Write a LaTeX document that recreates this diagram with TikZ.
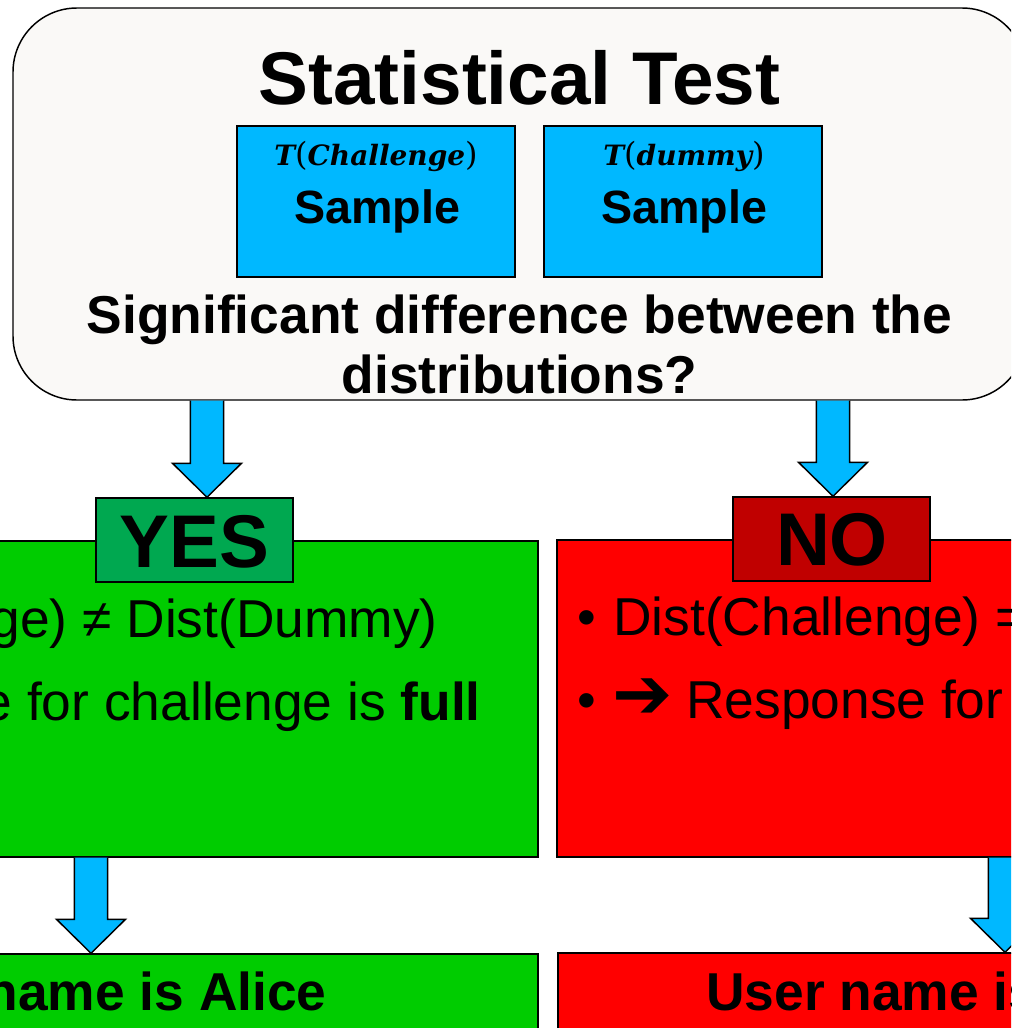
\documentclass[tikz,border=0pt]{standalone}
\usepackage{fontspec}
\setmainfont{Liberation Sans}
\newfontfamily\dingfont{DejaVu Sans}
\newfontfamily\varfont{DejaVu Serif}
\usetikzlibrary{calc,fit}

\definecolor{panelfill}{HTML}{FAF9F7}
\definecolor{skyblue}{HTML}{00B8FF}
\definecolor{yesgreen}{HTML}{00CC00}
\definecolor{yesdark}{HTML}{00A850}
\definecolor{nored}{HTML}{FF0000}
\definecolor{nodark}{HTML}{C00000}

% variable-style label: bold italic name in upright parentheses
\newcommand\tvar[1]{{\bfseries\itshape T}{\fontsize{24}{26}\selectfont(}{\bfseries\itshape #1}{\fontsize{24}{26}\selectfont)}}

% block arrow pointing down from #1 to #2 (same x)
\newcommand\downblock[2]{%
  \path let \p1=(#1), \p2=(#2) in
    [bigarrow]
    (\x1-12.4pt,\y1) -- (\x1-12.4pt,\y2+25.5pt) -- (\x1-25.9pt,\y2+25.5pt)
    -- (\x2,\y2) -- (\x1+25.9pt,\y2+25.5pt) -- (\x1+12.4pt,\y2+25.5pt)
    -- (\x1+12.4pt,\y1);}

\begin{document}
\begin{tikzpicture}[x=0.75pt,y=-0.75pt,
  panel/.style={draw, line width=1.1pt, fill=panelfill, rounded corners=48pt, inner sep=0pt},
  samplebox/.style={draw, line width=1.1pt, fill=skyblue, inner sep=0pt},
  plainbox/.style={draw, line width=1.1pt, inner sep=0pt},
  bigarrow/.style={draw=black, line width=1.1pt, fill=skyblue, line join=miter},
  titletext/.style={inner sep=0pt, font=\fontsize{56}{60}\selectfont\bfseries},
  labeltext/.style={inner sep=0pt, font=\fontsize{56}{60}\selectfont\bfseries},
  qtext/.style={inner sep=0pt, font=\fontsize{40}{45}\selectfont\bfseries},
  sampletext/.style={inner sep=0pt, font=\fontsize{35}{40}\selectfont\bfseries},
  mathtext/.style={inner sep=0pt, font=\fontsize{21}{24}\selectfont\varfont},
  bodytext/.style={inner sep=0pt, font=\fontsize{40}{45}\selectfont},
  arrowglyph/.style={inner sep=0pt, font=\fontsize{54}{56}\selectfont\dingfont},
  resulttext/.style={inner sep=0pt, font=\fontsize{40}{45}\selectfont\bfseries},
]
\useasboundingbox (0,0) rectangle (1011,1028);
\clip (0,0) rectangle (1011,1028);
\fill[white] (0,0) rectangle (1011,1028);

% x positions of the block arrows
\coordinate (ax1) at (207,0);
\coordinate (ax2) at (833,0);
\coordinate (ax3) at (91,0);
\coordinate (ax4) at (1005,0);

% statistical test panel
\node[panel, fit={(13,8) (1026,400)}] (test) {};
\node[titletext, anchor=base] (title) at (519.5,104) {Statistical Test};
\node[samplebox, fit={(237,126) (515,277)}] (sampleL) {};
\node[samplebox, fit={(544,126) (822,277)}] (sampleR) {};
\node[mathtext, anchor=base] (tchal) at (376,165) {\tvar{Challenge}};
\node[mathtext, anchor=base] (tdum) at (684,165) {\tvar{dummy}};
\node[sampletext, anchor=base] (smpL) at (377,223) {Sample};
\node[sampletext, anchor=base] (smpR) at (684,223) {Sample};
\node[qtext, anchor=base] (q1) at (519.5,333) {Significant difference between the};
\node[qtext, anchor=base] (q2) at (519.5,393) {distributions?};

% outcome panels
\node[plainbox, fill=yesgreen, fit={(-370,541) (538,857)}] (greenbox) {};
\node[plainbox, fill=nored, fit={(557,540) (1460,857)}] (redbox) {};
\node[plainbox, fill=yesdark, fit={(96,498) (293,582)}] (yes) {};
\node[plainbox, fill=nodark, fit={(733,497) (930,581)}] (no) {};
\node[labeltext, anchor=base] (yeslbl) at (194.5,567) {YES};
\node[labeltext, anchor=base] (nolbl) at (832,565) {NO};

\node[bodytext, anchor=base east] (g1) at (438,637) {Dist(Challenge) ≠ Dist(Dummy)};
\node[bodytext, anchor=base east] (g2) at (481,720) {Response for challenge is \textbf{full}};

\node[bodytext, anchor=base west] (rb1) at (577,635) {•};
\node[bodytext, anchor=base west] (r1) at (613,635) {Dist(Challenge) = Dist(Dummy)};
\node[bodytext, anchor=base west] (rb2) at (577,718) {•};
\node[arrowglyph] (rarr) at (643,699) {➔};
\node[bodytext, anchor=base west] (r2) at (686,718) {Response for};

% results
\node[plainbox, fill=yesgreen, fit={(-370,954) (538,1100)}] (alice) {};
\node[plainbox, fill=nored, fit={(558,953) (1460,1100)}] (other) {};
\node[resulttext, anchor=base east] (alicetxt) at (327,1010) {User name is Alice};
\node[resulttext, anchor=base west] (othertxt) at (706,1010) {User name is};

% block arrows
\downblock{ax1 |- test.south}{ax1 |- yes.north}
\downblock{ax2 |- test.south}{ax2 |- no.north}
\downblock{ax3 |- greenbox.south}{ax3 |- alice.north}
\downblock{ax4 |- redbox.south}{ax4 |- other.north}
\end{tikzpicture}
\end{document}
